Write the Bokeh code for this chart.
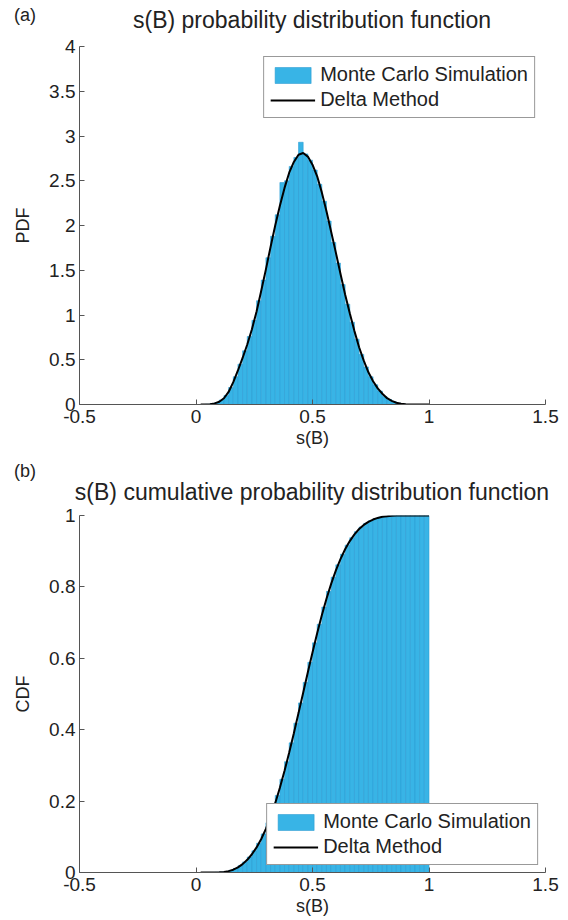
from bokeh.plotting import figure
from bokeh.models import (Range1d, FixedTicker, CustomJSTickFormatter, Div,
                          Legend, LegendItem, ColumnDataSource)
from bokeh.layouts import column
from bokeh.embed import file_html
from bokeh.resources import INLINE

FONT = "Liberation Sans"
BAR_FILL = "#38B4E6"
BAR_EDGE = "#2A9BD2"
TXT = "#222222"

# ---- data ----
hist_x = [0.05, 0.07, 0.09, 0.11, 0.13, 0.15, 0.17, 0.19, 0.21, 0.23,
          0.25, 0.27, 0.29, 0.31, 0.33, 0.35, 0.37, 0.39, 0.41, 0.43,
          0.45, 0.47, 0.49, 0.51, 0.53, 0.55, 0.57, 0.59, 0.61, 0.63,
          0.65, 0.67, 0.69, 0.71, 0.73, 0.75, 0.77, 0.79, 0.81, 0.83,
          0.85, 0.87, 0.89]
hist_pdf = [0.002, 0.007, 0.02, 0.05, 0.10, 0.19, 0.31, 0.45, 0.60, 0.76,
            0.94, 1.16, 1.39, 1.64, 1.88, 2.12, 2.48, 2.50, 2.66, 2.76,
            2.93, 2.80, 2.73, 2.62, 2.46, 2.27, 2.05, 1.81, 1.58, 1.34,
            1.12, 0.92, 0.73, 0.56, 0.42, 0.31, 0.22, 0.15, 0.09, 0.055,
            0.03, 0.014, 0.005]

curve_x = [0.02, 0.04, 0.06, 0.08, 0.10, 0.12, 0.14, 0.16, 0.18, 0.20,
           0.22, 0.24, 0.26, 0.28, 0.30, 0.32, 0.34, 0.36, 0.38, 0.40,
           0.42, 0.44, 0.46, 0.48, 0.50, 0.52, 0.54, 0.56, 0.58, 0.60,
           0.62, 0.64, 0.66, 0.68, 0.70, 0.72, 0.74, 0.76, 0.78, 0.80,
           0.82, 0.84, 0.86, 0.88, 0.90, 0.92, 0.94, 0.96, 0.98, 1.00]
delta_pdf = [0, 0.001, 0.004, 0.012, 0.03, 0.07, 0.14, 0.25, 0.38, 0.52,
             0.67, 0.84, 1.04, 1.27, 1.51, 1.76, 2.00, 2.22, 2.42, 2.59,
             2.71, 2.79, 2.81, 2.77, 2.68, 2.55, 2.37, 2.16, 1.93, 1.70,
             1.46, 1.23, 1.02, 0.82, 0.64, 0.49, 0.36, 0.26, 0.18, 0.12,
             0.07, 0.04, 0.02, 0.008, 0.003, 0.001, 0, 0, 0, 0]
delta_cdf = [0, 0, 0.0001, 0.0002, 0.0007, 0.0017, 0.0038, 0.0078, 0.0143, 0.0235,
             0.0356, 0.0511, 0.0703, 0.0939, 0.1223, 0.1558, 0.1942, 0.2374, 0.2848, 0.3360,
             0.3902, 0.4465, 0.5037, 0.5608, 0.6165, 0.6700, 0.7203, 0.7666, 0.8084, 0.8455,
             0.8778, 0.9054, 0.9284, 0.9472, 0.9621, 0.9737, 0.9823, 0.9887, 0.9932, 0.9963,
             0.9982, 0.9993, 0.9999, 1, 1, 1, 1, 1, 1, 1]

cdf_x = [0.01, 0.03, 0.05, 0.07, 0.09, 0.11, 0.13, 0.15, 0.17, 0.19,
         0.21, 0.23, 0.25, 0.27, 0.29, 0.31, 0.33, 0.35, 0.37, 0.39,
         0.41, 0.43, 0.45, 0.47, 0.49, 0.51, 0.53, 0.55, 0.57, 0.59,
         0.61, 0.63, 0.65, 0.67, 0.69, 0.71, 0.73, 0.75, 0.77, 0.79,
         0.81, 0.83, 0.85, 0.87, 0.89, 0.91, 0.93, 0.95, 0.97, 0.99]
hist_cdf = [0, 0, 0.0001, 0.0002, 0.0005, 0.0012, 0.0028, 0.0058, 0.0111, 0.0189,
            0.0296, 0.0434, 0.0607, 0.0821, 0.1081, 0.1391, 0.1750, 0.2158, 0.2611, 0.3104,
            0.3631, 0.4184, 0.4751, 0.5323, 0.5887, 0.6433, 0.6952, 0.7435, 0.7875, 0.8270,
            0.8617, 0.8916, 0.9169, 0.9378, 0.9547, 0.9679, 0.9780, 0.9855, 0.9910, 0.9948,
            0.9973, 0.9988, 0.9996, 1, 1, 1, 1, 1, 1, 1]

bin_width = 0.02
x_ticks = [-0.5, 0, 0.5, 1, 1.5]
pdf_ticks = [0, 0.5, 1, 1.5, 2, 2.5, 3, 3.5, 4]
cdf_ticks = [0, 0.2, 0.4, 0.6, 0.8, 1]

series_names = ["Monte Carlo Simulation", "Delta Method"]
panel_titles = ["s(B) probability distribution function",
                "s(B) cumulative probability distribution function"]
panel_tags = ["(a)", "(b)"]
y_labels = ["PDF", "CDF"]
x_label = "s(B)"

W = 568
LEFT = 79
FRAME_W = 466
RIGHT = W - LEFT - FRAME_W

fmt = CustomJSTickFormatter(code="return tick.toString();")


def header(tag, title, h, tag_top, title_top):
    html = (
        f'<div style="position:relative;width:{W}px;height:{h}px;'
        f'font-family:\'{FONT}\';color:{TXT};">'
        f'<span style="position:absolute;left:14px;top:{tag_top}px;'
        f'font-size:18px;line-height:18px;white-space:nowrap;">{tag}</span>'
        f'<span style="position:absolute;left:{LEFT - 40}px;width:{FRAME_W + 80}px;'
        f'text-align:center;top:{title_top}px;font-size:23px;line-height:23px;'
        f'white-space:nowrap;">{title}</span></div>'
    )
    return Div(text=html, width=W, height=h, margin=(0, 0, 0, 0))


def style_axes(p, yticks):
    p.xgrid.visible = False
    p.ygrid.visible = False
    p.outline_line_color = None
    p.background_fill_color = "white"
    p.border_fill_color = "white"
    p.xaxis.ticker = FixedTicker(ticks=x_ticks)
    p.yaxis.ticker = FixedTicker(ticks=yticks)
    p.xaxis.formatter = fmt
    p.yaxis.formatter = fmt
    for ax in (p.xaxis[0], p.yaxis[0]):
        ax.major_tick_in = 5
        ax.major_tick_out = 0
        ax.minor_tick_line_color = None
        ax.axis_line_color = "#555555"
        ax.major_tick_line_color = "#555555"
        ax.major_label_text_font = FONT
        ax.major_label_text_font_size = "19px"
        ax.major_label_text_color = TXT
        ax.axis_label_text_font = FONT
        ax.axis_label_text_font_size = "18px"
        ax.axis_label_text_font_style = "normal"
        ax.axis_label_text_color = TXT
    p.xaxis.major_label_standoff = 5
    p.xaxis.axis_label_standoff = 2
    p.yaxis.major_label_standoff = 4
    p.yaxis.axis_label_standoff = 13
    p.xaxis.axis_label = x_label


def add_legend(p, bar_r, line_r, location, margin):
    leg = Legend(items=[LegendItem(label=series_names[0], renderers=[bar_r]),
                        LegendItem(label=series_names[1], renderers=[line_r])],
                 location=location)
    leg.label_text_font = FONT
    leg.label_text_font_size = "20px"
    leg.label_text_color = TXT
    leg.glyph_width = 45
    leg.glyph_height = 20
    leg.label_standoff = 5
    leg.label_height = 22
    leg.padding = 6
    leg.spacing = 2
    leg.margin = margin
    leg.border_line_color = "#333333"
    leg.border_line_width = 1
    leg.background_fill_alpha = 1
    p.add_layout(leg)


# ---- panel (a) ----
h1 = header(panel_tags[0], panel_titles[0], 35, 6, 9)
p1 = figure(width=W, height=427, x_range=Range1d(-0.5, 1.5), y_range=Range1d(0, 4),
            output_backend="svg", toolbar_location=None,
            min_border_left=LEFT, min_border_right=RIGHT, min_border_top=11, min_border_bottom=58)
style_axes(p1, pdf_ticks)
p1.yaxis.axis_label = y_labels[0]
src1 = ColumnDataSource(dict(x=hist_x, top=hist_pdf))
b1 = p1.vbar(x="x", top="top", width=bin_width, source=src1, fill_color=BAR_FILL,
             line_color=BAR_EDGE, line_width=0.8, line_alpha=0.7)
l1 = p1.line(curve_x, delta_pdf, line_color="black", line_width=2)
add_legend(p1, b1, l1, "top_right", 10)

# ---- panel (b) ----
h2 = header(panel_tags[1], panel_titles[1], 42, 0, 19)
p2 = figure(width=W, height=414, x_range=Range1d(-0.5, 1.5), y_range=Range1d(0, 1),
            output_backend="svg", toolbar_location=None,
            min_border_left=LEFT, min_border_right=RIGHT, min_border_top=11, min_border_bottom=46)
style_axes(p2, cdf_ticks)
p2.yaxis.axis_label = y_labels[1]
src2 = ColumnDataSource(dict(x=cdf_x, top=hist_cdf))
b2 = p2.vbar(x="x", top="top", width=bin_width, source=src2, fill_color=BAR_FILL,
             line_color=BAR_EDGE, line_width=0.8, line_alpha=0.7)
l2 = p2.line(curve_x, delta_cdf, line_color="black", line_width=2)
add_legend(p2, b2, l2, "bottom_right", 7)

layout = column(h1, p1, h2, p2, spacing=0)
open("out.html", "w").write(file_html(layout, INLINE))
